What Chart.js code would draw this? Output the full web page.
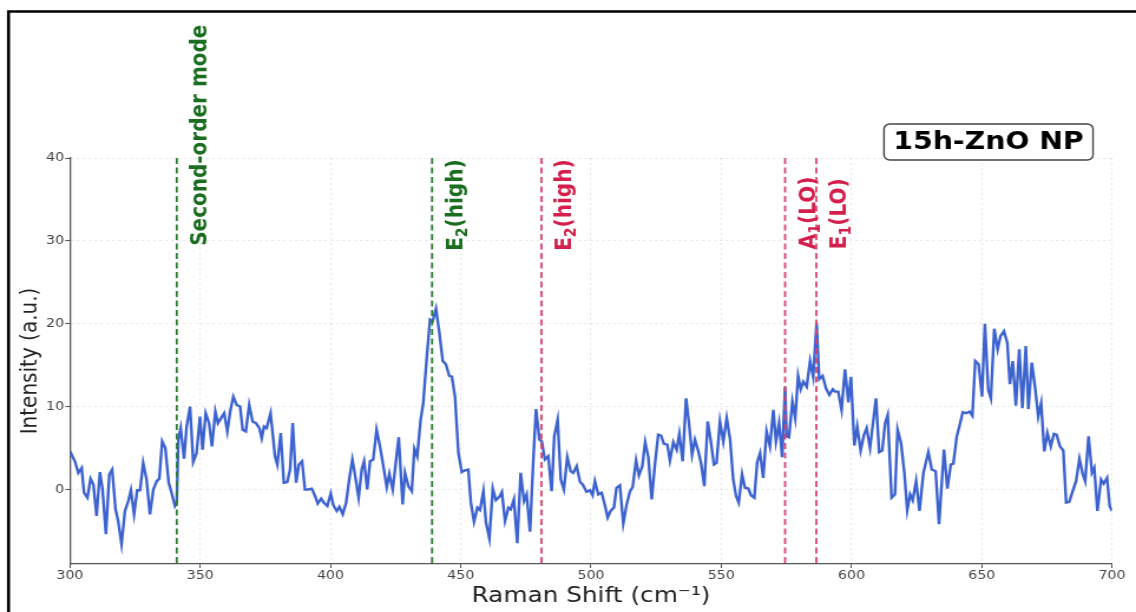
<!DOCTYPE html>
<html><head><meta charset="utf-8">
<script src="https://cdn.jsdelivr.net/npm/chart.js@4/dist/chart.umd.min.js"></script>
<style>html,body{margin:0;padding:0;background:#fff;overflow:hidden}
#c{display:block}</style>
</head><body>
<canvas id="c" width="963" height="612" style="width:1136px;height:612px"></canvas>
<script>
// ---- data ----
const ramanShift = [
300,301.9,303.2,304.5,305.4,306.7,307.9,309,310.2,311.5,312.5,313.8,315.1,316.2,317.5,318.5,319.8,321.1,322.4,323.4,
324.6,325.8,326.9,328.1,329.4,330.7,332,333.3,334.3,335.4,336.6,337.9,339,340.3,341,341.6,342.5,343.8,344.8,346.1,
347.3,348.6,349.9,350.9,352.1,353.4,354.5,355.8,356.8,358,359.2,360.4,361.5,362.7,364,365.3,366.3,367.5,368.8,370.1,
371.4,372.7,
373.6,374.5,375.5,377.0,378.0,378.7,379.6,380.9,382.1,383.4,384.5,385.5,386.8,387.9,389.1,390.2,391.5,392.8,394.1,395.1,
396.4,397.5,398.8,400.1,401.1,402.4,403.4,404.7,406.0,407.2,408.4,409.5,410.8,412.0,412.9,414.1,415.2,416.4,417.7,419.0,
420.3,421.6,422.6,423.9,425.1,426.2,
427.7,428.6,429.9,431.2,432.2,433.3,434.6,435.6,436.9,438.2,439.2,440.5,441.8,443.1,444.3,445.6,446.6,447.8,449.1,450.4,
451.6,452.9,453.9,455.1,456.4,457.4,458.7,459.7,461.0,462.3,463.5,464.8,465.8,467.0,468.3,469.2,470.4,471.7,473.0,474.3,
475.3,476.6,477.8,478.9,480.2,481.1,482.3,483.6,484.9,485.9,487.2,488.4,489.6,490.9,492.2,493.2,494.5,495.8,
496.8,498.3,499.6,500.6,501.5,502.8,504.1,505.4,506.4,507.5,508.8,509.8,511.1,512.4,513.7,515.0,516.0,517.3,518.4,519.7,
520.8,522.0,523.3,524.6,525.8,526.9,528.0,529.3,530.3,531.6,532.9,533.9,535.2,536.5,537.6,538.8,539.9,541.2,542.3,543.5,
544.8,545.9,547.2,548.2,549.5,550.8,552.1,553.4,554.6,555.7,556.7,558.0,559.1,560.4,561.4,562.7,563.8,
564.9,566.1,567.4,568.7,570.0,571.0,572.2,573.4,574.5,575.1,576.0,577.3,578.4,579.5,580.5,581.5,582.8,584.1,585.3,586.6,
587.6,588.9,590.2,591.5,592.8,593.7,594.9,596.2,597.5,598.8,599.8,601.1,602.2,603.5,604.8,605.8,607.1,609.4,610.6,611.8,
612.9,613.9,615.4,616.7,617.7,619.0,620.3,621.4,622.5,623.5,624.8,626.1,627.6,629.5,630.8,632.3,633.6,
635.5,636.8,638.1,639.1,640.4,641.4,642.7,644.0,645.3,646.4,647.5,648.8,650.1,651.2,652.5,653.5,654.8,656.1,657.2,658.5,
659.8,660.8,661.9,663.1,664.4,665.6,666.9,667.9,669.2,670.4,671.7,672.8,674.0,675.2,676.5,677.7,678.7,680.0,681.3,682.4,
683.6,684.9,686.2,687.5,688.8,689.7,691.0,692.3,693.2,694.4,695.8,696.8,698.1,699.1,700.0
];
const intensity = [
4.6,3.4,2.0,2.6,-0.4,-1.0,1.3,0.6,-3.2,2.1,0,-5.4,1.8,2.4,-2.4,-3.8,-6.6,-2.6,-1.4,-0.1,
-3.0,-0.1,-0.1,3.2,1.2,-3.0,0,1.0,1.3,5.8,5.0,0.8,-0.4,-2.0,-1.6,6.0,7.4,3.7,7.6,10.0,
3.3,4.4,8.8,4.8,9.2,8.0,5.2,9.4,8.0,8.6,9.2,7.0,9.4,11.2,10.2,10.0,7.2,7.0,10.2,8.2,
8.0,7.4,
6.2,7.6,7.4,9.2,6.2,4.0,3.0,6.8,0.8,0.9,2.4,8.0,0.8,3.0,3.4,0,0,0.1,-0.8,-1.7,
-1.1,-1.6,-2.0,-0.5,-1.9,-2.6,-2.1,-3.0,-1.6,1.2,3.6,1.6,-1.0,2.4,3.4,0,3.4,3.6,7.2,5.2,
2.8,0.3,1.9,0,3.3,6.3,
-1.8,2.0,0.4,-0.2,4.9,4.0,8.4,10.4,15.7,20.5,20.3,21.8,18.9,15.5,15.1,13.7,13.6,11.2,4.4,2.1,
2.3,2.4,-1.6,-3.9,-2.2,-2.5,-0.2,-4.0,-5.9,0.1,-1.3,-0.9,-0.3,-3.8,-2.2,-2.4,-1.2,-6.5,2.0,-1.4,
-0.6,-5.1,3.2,9.7,6.0,5.8,3.6,4.0,-0.2,6.4,8.4,1.2,0,3.9,2.2,2.0,2.8,0.9,
0.6,-0.3,-0.1,-0.7,1.0,-0.6,-0.4,-2.0,-3.4,-2.6,-2.2,0.2,0.5,-4.1,-1.8,-0.2,0.3,3.5,1.7,2.8,
5.7,3.9,-1.2,3.2,6.6,6.5,5.5,5.4,3.5,5.7,4.8,6.7,3.4,11.0,8.0,4.2,6.0,4.6,3.1,0.4,
8.2,6.0,3.0,3.2,8.2,5.8,8.6,6.0,1.2,-0.8,-1.6,1.8,0.2,0.1,-0.7,-1.0,3.3,
4.4,1.4,7.0,5.2,9.6,5.8,8.0,3.9,12.4,6.4,6.3,10.6,8.6,13.7,12.1,13.0,12.4,15.5,13.6,20.1,
13.3,13.7,12.2,11.4,12.1,11.8,11.8,9.6,14.5,10.5,13.6,5.3,7.6,4.7,6.6,7.4,5.0,11.0,4.5,4.7,
8.0,9.0,-1.0,-0.6,7.2,5.6,2.0,-2.5,-0.6,-1.3,1.0,-2.6,2.0,4.5,2.4,2.2,-4.2,
4.8,0.1,3.0,3.1,6.4,7.6,9.3,9.2,9.4,8.9,15.5,15.1,11.2,20.0,12.0,11.0,19.4,16.9,18.5,19.1,
17.7,12.7,15.5,10.1,16.9,9.8,17.3,9.7,15.3,12.5,8.8,10.4,4.6,6.8,5.2,6.7,6.6,5.2,4.7,-1.6,
-1.5,-0.2,1.0,3.7,1.8,1.0,6.4,2.0,2.6,-2.6,1.2,0.7,1.4,-2.0,-2.6
];
const xTickValues = [300,350,400,450,500,550,600,650,700];
const yTickValues = [0,10,20,30,40];
const modePositions = [341, 439, 481, 574.5, 586.5];
const modeLabels = ["Second-order mode", "E_2(high)", "E_2(high)", "A_1(LO)", "E_1(LO)"];
const modeGroups = ["green", "green", "red", "red", "red"];
const sampleTitle = "15h-ZnO NP";
const yAxisTitle = "Intensity (a.u.)";
const xAxisTitle = "Raman Shift (cm\u207B\u00B9)";

// ---- styling ----
const SX = 1136 / 963;           // horizontal stretch of the reference
const FONT = '"DejaVu Sans", "Liberation Sans", sans-serif';
const palette = {
  green: {line: '#2e7d32', text: '#1b6e20'},
  red:   {line: '#d9436b', text: '#d41f4c'}
};
const labelYValue = [29.4, 28.8, 28.8, 29.0, 29.0];

function parseRich(str){
  const parts = [];
  let buf = '';
  for (let i = 0; i < str.length; i++){
    if (str[i] === '_' && i + 1 < str.length){
      if (buf) { parts.push({t: buf, sub: false}); buf = ''; }
      parts.push({t: str[i+1], sub: true}); i++;
    } else buf += str[i];
  }
  if (buf) parts.push({t: buf, sub: false});
  return parts;
}

const overlay = {
  id: 'overlay',
  afterDatasetsDraw(chart){
    const {ctx, chartArea: a, scales: {x}} = chart;
    ctx.save();
    modePositions.forEach((v, i) => {
      const px = x.getPixelForValue(v);
      ctx.strokeStyle = palette[modeGroups[i]].line;
      ctx.lineWidth = 1.8;
      ctx.setLineDash([6, 3.5]);
      ctx.beginPath(); ctx.moveTo(px, a.top); ctx.lineTo(px, a.bottom); ctx.stroke();
    });
    ctx.restore();
  },
  afterDraw(chart){
    const {ctx, scales: {x, y}} = chart;
    const size = 20;
    modePositions.forEach((v, i) => {
      const px = x.getPixelForValue(v) + 30 / SX;
      const py = y.getPixelForValue(labelYValue[i]);
      ctx.save();
      ctx.translate(px, py);
      ctx.rotate(-Math.PI / 2);
      ctx.fillStyle = palette[modeGroups[i]].text;
      ctx.textAlign = 'left';
      ctx.textBaseline = 'alphabetic';
      let pos = 0;
      parseRich(modeLabels[i]).forEach(p => {
        const fs = p.sub ? size * 0.7 : size;
        ctx.font = `bold ${fs}px ${FONT}`;
        ctx.fillText(p.t, pos, p.sub ? size * 0.2 : 0);
        pos += ctx.measureText(p.t).width;
      });
      ctx.restore();
    });
    // sample title box
    ctx.save();
    const bx = 884 / SX, bw = (1093 - 884) / SX, by = 124, bh = 36;
    ctx.beginPath();
    ctx.roundRect(bx, by, bw, bh, 5);
    ctx.fillStyle = '#fff'; ctx.fill();
    ctx.lineWidth = 1.4; ctx.strokeStyle = '#444'; ctx.stroke();
    ctx.fillStyle = '#000';
    ctx.font = `bold 24px ${FONT}`;
    ctx.textAlign = 'center'; ctx.textBaseline = 'middle';
    ctx.fillText(sampleTitle, bx + bw / 2, by + bh / 2 + 1);
    ctx.restore();
    // outer frame
    ctx.save();
    ctx.strokeStyle = '#000'; ctx.lineWidth = 2.6;
    ctx.beginPath();
    ctx.moveTo(8.5 / SX, 700); ctx.lineTo(8.5 / SX, 11.5); ctx.lineTo(1136 / SX + 5, 11.5);
    ctx.stroke();
    ctx.restore();
  }
};

const gridCommon = {
  color: 'rgba(0,0,0,0.13)', lineWidth: 0.8,
  drawTicks: true, tickLength: 4, tickColor: '#555', tickWidth: 1.1
};
const borderCommon = {display: true, color: '#555', width: 1.3, dash: [2, 3]};

const canvas = document.getElementById('c');
new Chart(canvas, {
  type: 'scatter',
  data: {
    datasets: [{
      data: ramanShift.map((v, i) => ({x: v, y: intensity[i]})),
      showLine: true,
      borderColor: '#3d63cf',
      borderWidth: 2.4,
      pointRadius: 0,
      tension: 0,
      fill: false
    }]
  },
  options: {
    responsive: false,
    animation: false,
    devicePixelRatio: 1,
    layout: {padding: {left: 7.3, right: 963 - 1112 / SX, top: 158, bottom: 0}},
    plugins: {legend: {display: false}, tooltip: {enabled: false}},
    scales: {
      x: {
        type: 'linear', min: 300, max: 700,
        afterBuildTicks: s => { s.ticks = xTickValues.map(v => ({value: v})); },
        afterFit: s => { s.height = 48; },
        ticks: {font: {size: 12, family: FONT}, color: '#444', padding: 1, maxRotation: 0,
                callback: v => String(v)},
        grid: gridCommon,
        border: borderCommon,
        title: {display: true, text: xAxisTitle, color: '#222',
                font: {size: 21, family: FONT}, padding: {top: 0, bottom: 2.4}}
      },
      y: {
        type: 'linear', min: -9, max: 40,
        afterBuildTicks: s => { s.ticks = yTickValues.map(v => ({value: v})); },
        afterFit: s => { s.width = 52; },
        ticks: {font: {size: 12, family: FONT}, color: '#444', padding: 1,
                callback: v => String(v)},
        grid: gridCommon,
        border: borderCommon,
        title: {display: true, text: yAxisTitle, color: '#222',
                font: {size: 20, family: FONT}, padding: {top: 6, bottom: 0}}
      }
    }
  },
  plugins: [overlay]
});
canvas.style.width = '1136px';
canvas.style.height = '612px';
</script>
</body></html>
